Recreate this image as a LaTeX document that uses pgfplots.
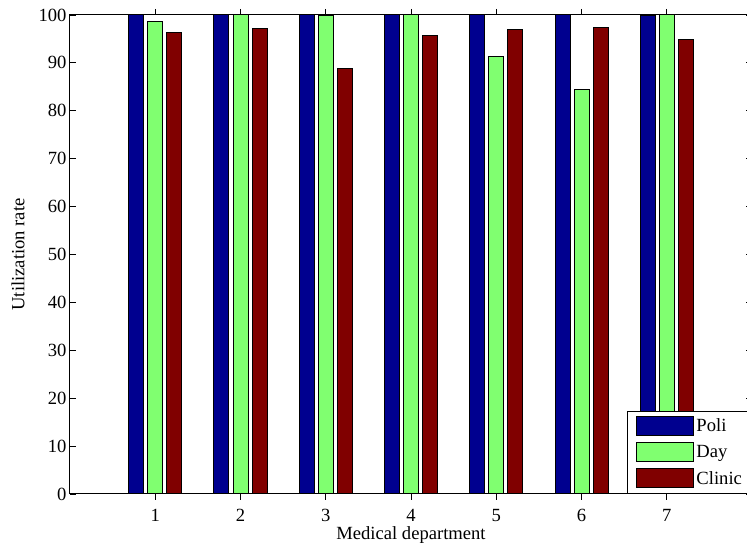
\documentclass[border=0pt]{standalone}
\usepackage{fontspec}
\setmainfont{Liberation Serif}
\usepackage{pgfplots}
\pgfplotsset{compat=1.18}
\definecolor{poli}{RGB}{0,0,143}
\definecolor{day}{RGB}{128,255,112}
\definecolor{clinic}{RGB}{128,0,0}
\newcommand{\fs}{\fontsize{18.6}{22}\selectfont}
\pgfplotsset{mybarlegend/.style={legend image code/.code={\draw[##1] (0pt,-9.5pt) rectangle (57pt,9.5pt);}}}
\begin{document}
\begin{tikzpicture}
\begin{axis}[
  scale only axis,
  width=682pt, height=479pt,
  xmin=0, xmax=8, ymin=0, ymax=100,
  xtick={1,2,3,4,5,6,7},
  ytick={0,10,20,30,40,50,60,70,80,90,100},
  xtick pos=both, ytick pos=both,
  xticklabel pos=bottom, yticklabel pos=left,
  tick align=inside,
  major tick length=6pt,
  tick style={black, line width=0.8pt},
  axis line style={black, line width=1pt},
  /pgf/number format/assume math mode=true,
  tick label style={font=\fs},
  xticklabel style={anchor=base, yshift=-22pt},
  label style={font=\fs},
  xlabel={Medical department},
  ylabel={Utilization rate},
  xlabel style={at={(axis description cs:0.5,-0.096)}, anchor=base},
  ylabel style={at={(axis description cs:-0.0762,0.5)}, anchor=center},
  ybar=4pt, bar width=15pt,
  legend style={at={(rel axis cs:0.8167,0)}, anchor=south west, draw=black, line width=1pt, fill=white, font=\fs, inner xsep=9pt, inner ysep=5pt, row sep=6.2pt},
  legend cell align=left,
]
\addplot[mybarlegend, fill=poli, draw=black, line width=1pt] coordinates {(1,100) (2,100) (3,100) (4,100) (5,100) (6,100) (7,99.8)};
\addplot[mybarlegend, fill=day, draw=black, line width=1pt] coordinates {(1,98.7) (2,100) (3,99.8) (4,100) (5,91.4) (6,84.5) (7,100)};
\addplot[mybarlegend, fill=clinic, draw=black, line width=1pt] coordinates {(1,96.4) (2,97.2) (3,88.8) (4,95.8) (5,97.0) (6,97.3) (7,94.9)};
\legend{Poli,Day,Clinic}
\end{axis}
\pgfresetboundingbox
\path[use as bounding box] (-70pt,-49pt) rectangle (677pt,494pt);
\end{tikzpicture}
\end{document}
